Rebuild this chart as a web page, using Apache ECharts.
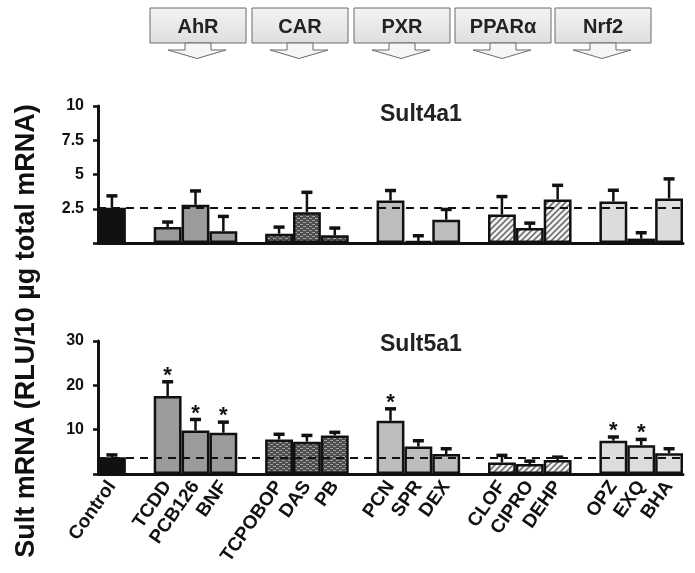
<!DOCTYPE html>
<html><head><meta charset="utf-8">
<script src="https://cdn.jsdelivr.net/npm/echarts@6/dist/echarts.min.js"></script>
<style>html,body{margin:0;padding:0;background:#fff}#c{width:695px;height:573px}</style>
</head><body><div id="c"></div>
<script>
// ---- data ----
const categories = ['Control','', 'TCDD','PCB126','BNF','', 'TCPOBOP','DAS','PB','', 'PCN','SPR','DEX','', 'CLOF','CIPRO','DEHP','', 'OPZ','EXQ','BHA'];
const groups     = ['Control','', 'AhR','AhR','AhR','', 'CAR','CAR','CAR','', 'PXR','PXR','PXR','', 'PPARa','PPARa','PPARa','', 'Nrf2','Nrf2','Nrf2'];
const sult4a1    = [2.57,null, 1.16,2.79,0.85,null, 0.68,2.25,0.56,null, 3.10,0.15,1.70,null, 2.08,1.09,3.17,null, 3.03,0.32,3.25];
const sult4a1Sem = [0.87,null, 0.37,1.01,1.09,null, 0.48,1.45,0.53,null, 0.73,0.38,0.75,null, 1.31,0.36,1.04,null, 0.82,0.43,1.43];
const sult5a1    = [3.77,null, 17.6,9.8,9.3,null, 7.8,7.3,8.7,null, 12.0,6.2,4.5,null, 2.6,2.26,3.16,null, 7.5,6.5,4.7];
const sult5a1Sem = [0.53,null, 3.2,2.5,2.4,null, 1.16,1.4,0.7,null, 2.7,1.3,1.2,null, 1.6,0.64,0.64,null, 0.85,1.3,1.0];
const sult5a1Sig = [0,0, 1,1,1,0, 0,0,0,0, 1,0,0,0, 0,0,0,0, 1,1,0];
const sult4a1Sig = [0,0, 0,0,0,0, 0,0,0,0, 0,0,0,0, 0,0,0,0, 0,0,0];
const controlLevel4 = 2.6, controlLevel5 = 3.7;
const receptors = ['AhR','CAR','PXR','PPARα','Nrf2'];
const panelTitles = ['Sult4a1','Sult5a1'];
const yTitle = 'Sult mRNA (RLU/10 µg total mRNA)';

// ---- styling ----
const FONT = '"Liberation Sans", Arial, Helvetica, sans-serif';
function dotPattern(){
  const c=document.createElement('canvas'); c.width=6; c.height=4;
  const g=c.getContext('2d'); g.fillStyle='#4e4e4e'; g.fillRect(0,0,6,4);
  g.fillStyle='#a0a0a0'; g.fillRect(0,0,3,1); g.fillRect(3,2,3,1);
  return c;
}
function stripePattern(){
  const c=document.createElement('canvas'); c.width=6; c.height=6;
  const g=c.getContext('2d'); g.fillStyle='#f4f4f4'; g.fillRect(0,0,6,6);
  g.strokeStyle='#707070'; g.lineWidth=1.6;
  g.beginPath(); g.moveTo(-1,7); g.lineTo(7,-1); g.moveTo(-4,4); g.lineTo(4,-4); g.moveTo(2,10); g.lineTo(10,2); g.stroke();
  return c;
}
const fills = {
  Control: '#111111',
  AhR: '#9b9b9e',
  CAR: {image: dotPattern(), repeat: 'repeat'},
  PXR: '#bdbdbf',
  PPARa: {image: stripePattern(), repeat: 'repeat'},
  Nrf2: '#dcdcde'
};

function barData(vals){
  return vals.map((v,i)=> v==null ? null : {value:v, itemStyle:{color: fills[groups[i]]}});
}
function errData(vals, sem, sig){
  const out=[];
  vals.forEach((v,i)=>{ if(v!=null) out.push([i, v, sem[i], sig[i]]); });
  return out;
}
function renderErr(params, api){
  const i=api.value(0), v=api.value(1), e=api.value(2), s=api.value(3);
  const p0=api.coord([i,v]), p1=api.coord([i,v+e]);
  const ch=[
    {type:'line', shape:{x1:p0[0],y1:p0[1],x2:p1[0],y2:p1[1]}, style:{stroke:'#111',lineWidth:2.5}},
    {type:'line', shape:{x1:p1[0]-5.5,y1:p1[1],x2:p1[0]+5.5,y2:p1[1]}, style:{stroke:'#111',lineWidth:3.5}}
  ];
  if(s) ch.push({type:'text', style:{text:'*', x:p1[0], y:p1[1]-6, align:'center', verticalAlign:'middle', font:'bold 22px '+FONT, fill:'#111'}});
  return {type:'group', children:ch};
}

const grids=[{left:98,right:12,top:106,height:137},{left:98,right:12,top:341,height:133}];
const lineBlack={color:'#111',width:3};

function xAxis(gi, showLabels){
  return {type:'category', gridIndex:gi, data:categories, boundaryGap:true,
    axisLine:{show:true,lineStyle:lineBlack,onZero:false}, axisTick:{show:false},
    axisLabel:{show:showLabels, interval:0, rotate:55, margin:9, color:'#111',
      fontFamily:FONT, fontWeight:'bold', fontSize:19}};
}
function yAxis(gi, max, interval){
  return {type:'value', gridIndex:gi, min:0, max:max, interval:interval,
    axisLine:{show:true,lineStyle:lineBlack}, axisTick:{show:true,length:5,lineStyle:{color:'#111',width:2.5}},
    splitLine:{show:false},
    axisLabel:{margin:14, color:'#111', fontFamily:FONT, fontWeight:'bold', fontSize:16,
      formatter:v=> v===0 ? '' : String(v)}};
}
function markLine(level){
  return {silent:true, symbol:'none', label:{show:false},
    lineStyle:{color:'#111', width:2, type:[8,6]}, data:[{yAxis:level}], z:10};
}

// header boxes (decoration)
const boxCenters=[198,300,402,503,603];
const graphics=[];
receptors.forEach((r,k)=>{
  const cx=boxCenters[k];
  graphics.push({type:'rect', shape:{x:cx-48,y:8,width:96,height:35},
    style:{fill:{type:'linear',x:0,y:0,x2:0,y2:1,colorStops:[{offset:0,color:'#f4f4f4'},{offset:1,color:'#dedede'}]}, stroke:'#6a6a6a', lineWidth:1}});
  graphics.push({type:'polygon', shape:{points:[[cx-13,43],[cx-13,50],[cx-30,50],[cx-1,58.5],[cx+28,50],[cx+13,50],[cx+13,43]]},
    style:{fill:'#f6f6f6', stroke:'#6a6a6a', lineWidth:1}});
  graphics.push({type:'text', x:cx, y:27, style:{text:r, align:'center', verticalAlign:'middle', font:'bold 20px '+FONT, fill:'#222'}});
});
graphics.push({type:'text', x:27, y:331, rotation:Math.PI/2,
  style:{text:yTitle, align:'center', verticalAlign:'middle', font:'bold 27px '+FONT, fill:'#111'}});

const chart=echarts.init(document.getElementById('c'),null,{renderer:'canvas'});
chart.setOption({
  animation:false,
  backgroundColor:'#fff',
  title:[
    {text:panelTitles[0], left:375, top:98, textStyle:{fontFamily:FONT,fontWeight:'bold',fontSize:23,color:'#222'}},
    {text:panelTitles[1], left:375, top:328, textStyle:{fontFamily:FONT,fontWeight:'bold',fontSize:23,color:'#222'}}
  ],
  grid:grids,
  xAxis:[xAxis(0,false), xAxis(1,true)],
  yAxis:[yAxis(0,10,2.5), yAxis(1,30,10)],
  graphic:graphics,
  series:[
    {type:'bar', xAxisIndex:0, yAxisIndex:0, data:barData(sult4a1), barCategoryGap:'0%',
      itemStyle:{borderColor:'#111',borderWidth:2.5}, markLine:markLine(controlLevel4)},
    {type:'custom', xAxisIndex:0, yAxisIndex:0, renderItem:renderErr, data:errData(sult4a1,sult4a1Sem,sult4a1Sig), encode:{x:0,y:1}, z:5},
    {type:'bar', xAxisIndex:1, yAxisIndex:1, data:barData(sult5a1), barCategoryGap:'0%',
      itemStyle:{borderColor:'#111',borderWidth:2.5}, markLine:markLine(controlLevel5)},
    {type:'custom', xAxisIndex:1, yAxisIndex:1, renderItem:renderErr, data:errData(sult5a1,sult5a1Sem,sult5a1Sig), encode:{x:0,y:1}, z:5}
  ]
});
</script></body></html>
